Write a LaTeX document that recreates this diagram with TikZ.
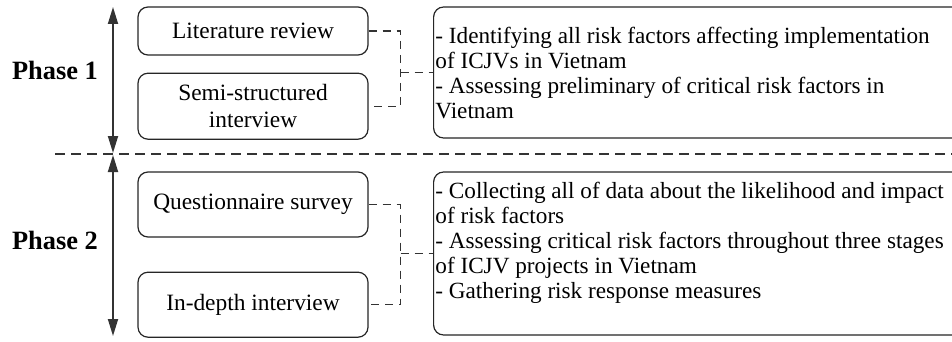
\documentclass[tikz,border=0pt]{standalone}
\usepackage{fontspec}
\setmainfont{Liberation Serif}
\usepackage{tikz}
\usetikzlibrary{positioning}
\usetikzlibrary {arrows.meta}
\tikzset{methodbox/.style={rectangle,rounded corners=5pt,draw=black!85,fill=white,
line width=0.6pt,inner sep=2pt,minimum width=115pt,align=center,
font=\fontsize{11.7}{13.5}\selectfont}}
\tikzset{infobox/.style={rectangle,rounded corners=5pt,draw=black!85,fill=white,
line width=0.6pt,inner sep=0pt,minimum width=268.5pt}}
\tikzset{infotext/.style={rectangle,draw=none,inner sep=0pt,align=left,anchor=north west,
font=\fontsize{11.6}{12.5}\selectfont}}
\tikzset{phaselabel/.style={rectangle,draw=none,inner sep=0pt,
font=\fontsize{13.2}{15}\selectfont\bfseries}}
\tikzset{link/.style={draw=black!80,line width=0.6pt,dash pattern=on 4pt off 3pt}}

\begin{document}
\begin{tikzpicture}[x=0.5pt,y=-0.5pt]
        \useasboundingbox (0,0) rectangle (952,342);

        \node[methodbox, minimum height=24pt] (litrev) at (253, 31) {Literature review};
        \node[methodbox, minimum height=33pt] (semi) [below=8.5pt of litrev] {Semi-structured\\interview};
        \node[methodbox, minimum height=32.5pt] (quest) at (253, 204.5) {Questionnaire survey};
        \node[methodbox, minimum height=32.5pt] (indepth) [below=17pt of quest] {In-depth interview};

        \node[infobox, minimum height=65.5pt, anchor=west] (infoA) at (433, 72.5) {};
        \node[infotext] (infoAtext) at ([xshift=1pt,yshift=-10pt]infoA.north west)
            {- Identifying all risk factors affecting implementation\\of ICJVs in Vietnam\\- Assessing preliminary of critical risk factors in\\Vietnam};
        \node[infobox, minimum height=81.5pt, anchor=west] (infoB) at (433, 253.5) {};
        \node[infotext] (infoBtext) at ([xshift=1pt,yshift=-5pt]infoB.north west)
            {- Collecting all of data about the likelihood and impact\\of risk factors\\- Assessing critical risk factors throughout three stages\\of ICJV projects in Vietnam\\- Gathering risk response measures};

        \node[phaselabel] (phaseA) at (55, 70) {Phase 1};
        \node[phaselabel] (phaseB) at (55, 240) {Phase 2};

        % dashed links to the outcome boxes
        \coordinate (joinA) at ([xshift=16pt]litrev.east |- infoA.west);
        \draw[link] (litrev.east) -| (joinA) |- (semi.east);
        \draw[link] (joinA) -- (infoA.west);
        \coordinate (joinB) at ([xshift=16pt]quest.east |- infoB.west);
        \draw[link] (quest.east) -| (joinB) |- (indepth.east);
        \draw[link] (joinB) -- (infoB.west);

        % phase split and arrows
        \coordinate (splitL) at (55, 154);
        \coordinate (splitR) at (975, 154);
        \draw[link, dash pattern=on 5pt off 3pt] (splitL) -- (splitR);

        \coordinate (arrAtop) at (113, 7);
        \coordinate (arrAbot) at (113, 153);
        \coordinate (arrBtop) at (113, 155);
        \coordinate (arrBbot) at (113, 336);
        \draw [draw=black!80,line width=0.9pt,{Triangle[length=8.5pt,width=5pt]}-{Triangle[length=8.5pt,width=5pt]}] (arrAtop) -- (arrAbot);
        \draw [draw=black!80,line width=0.9pt,{Triangle[length=8.5pt,width=5pt]}-{Triangle[length=8.5pt,width=5pt]}] (arrBtop) -- (arrBbot);

    \end{tikzpicture}
\end{document}
